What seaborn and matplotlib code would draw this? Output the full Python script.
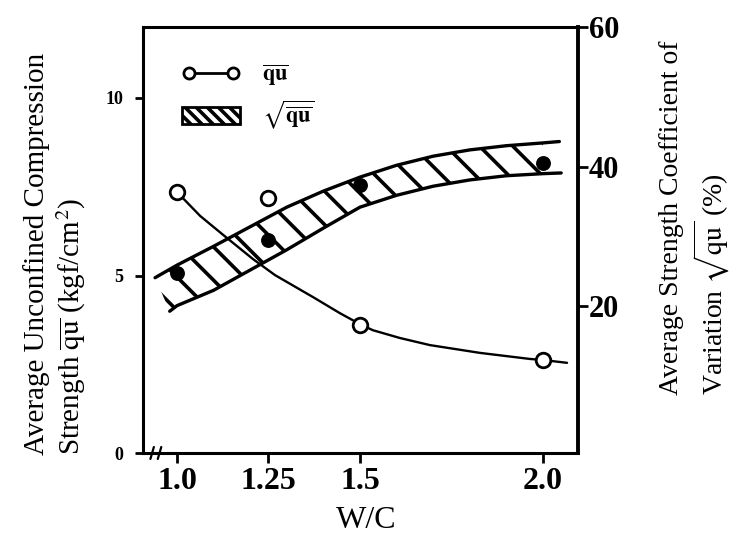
import matplotlib
matplotlib.use("Agg")
import matplotlib.pyplot as plt
import seaborn as sns
import numpy as np
import pandas as pd
from matplotlib.lines import Line2D
from matplotlib.patches import Patch

# ---------------- data ----------------
wc_points = [1.0, 1.25, 1.5, 2.0]
qu_mean = [7.35, 7.18, 3.61, 2.62]          # left axis, open circles
cv_points = [24.8, 29.5, 37.4, 40.5]        # right axis, filled dots

qu_curve_x = [1.0, 1.063, 1.123, 1.208, 1.268, 1.372, 1.445, 1.5, 1.535,
              1.609, 1.691, 1.828, 1.964, 2.0, 2.066]
qu_curve_y = [7.35, 6.68, 6.17, 5.46, 5.01, 4.39, 3.94, 3.63, 3.46,
              3.24, 3.04, 2.82, 2.65, 2.62, 2.54]

band_upper_x = [0.94, 1.0, 1.1, 1.2, 1.3, 1.4, 1.5, 1.6, 1.7, 1.8, 1.9, 2.0, 2.045]
band_upper_y = [24.1, 25.9, 28.6, 31.4, 34.2, 36.5, 38.5, 40.2, 41.5, 42.4, 43.0, 43.4, 43.6]
band_lower_x = [0.98, 1.0, 1.1, 1.2, 1.3, 1.4, 1.5, 1.6, 1.7, 1.8, 1.9, 2.0, 2.05]
band_lower_y = [19.3, 20.1, 22.3, 25.2, 28.1, 31.2, 34.2, 35.9, 37.2, 38.1, 38.7, 39.0, 39.1]

x_ticks = [1.0, 1.25, 1.5, 2.0]
x_tick_labels = ["1.0", "1.25", "1.5", "2.0"]
left_ticks = [0, 5, 10]
left_tick_labels = ["0", "5", "10"]
right_ticks = [20, 40, 60]
right_tick_labels = ["20", "40", "60"]

left_label_1 = "Average Unconfined Compression"
left_label_2 = r"Strength $\overline{\mathrm{qu}}$ (kgf/cm$^2$)"
right_label_1 = "Average Strength Coefficient of"
right_label_2 = r"Variation $\sqrt{\mathrm{qu}}$ (%)"
x_label = "W/C"
legend_labels = [r"$\overline{\mathbf{qu}}$", r"$\sqrt{\overline{\mathbf{qu}}}$"]

# ---------------- style ----------------
sns.set_theme(style="white")
plt.rcParams["font.family"] = ["Liberation Serif", "DejaVu Serif"]
plt.rcParams["mathtext.fontset"] = "stix"
plt.rcParams["hatch.linewidth"] = 2.6
plt.rcParams["text.color"] = "black"
plt.rcParams["axes.labelcolor"] = "black"
plt.rcParams["xtick.color"] = "black"
plt.rcParams["ytick.color"] = "black"
plt.rcParams["axes.edgecolor"] = "black"

fig = plt.figure(figsize=(7.32, 5.49), dpi=100)
W, H = 732, 549
ax = fig.add_axes([143 / W, 1 - 453 / H, (578 - 143) / W, (453 - 27) / H])
ax2 = ax.twinx()

# ---------------- qu (left axis) ----------------
curve_df = pd.DataFrame({"wc": qu_curve_x, "qu": qu_curve_y})
sns.lineplot(data=curve_df, x="wc", y="qu", ax=ax, color="black",
             linewidth=1.7, sort=False, estimator=None)
pts_df = pd.DataFrame({"wc": wc_points, "qu": qu_mean, "cv": cv_points})
sns.scatterplot(data=pts_df, x="wc", y="qu", ax=ax, marker="o", s=110,
                facecolor="white", edgecolor="black", linewidth=2, zorder=5)

# ---------------- CV band (right axis) ----------------
poly_x = np.concatenate([band_upper_x[:-1], band_lower_x[:-1][::-1]])
poly_y = np.concatenate([band_upper_y[:-1], band_lower_y[:-1][::-1]])
ax2.fill(poly_x, poly_y, facecolor="none", edgecolor="black",
         hatch="\\", linewidth=0)
up_df = pd.DataFrame({"wc": band_upper_x, "cv": band_upper_y})
lo_df = pd.DataFrame({"wc": band_lower_x, "cv": band_lower_y})
sns.lineplot(data=up_df, x="wc", y="cv", ax=ax2, color="black", linewidth=2.4,
             sort=False, estimator=None)
sns.lineplot(data=lo_df, x="wc", y="cv", ax=ax2, color="black", linewidth=2.4,
             sort=False, estimator=None)
sns.scatterplot(data=pts_df, x="wc", y="cv", ax=ax2, marker="o", s=115,
                color="black", edgecolor="black", linewidth=0, zorder=5)

# ---------------- axes ----------------
ax.set_xlim(0.907, 2.096)
ax.set_ylim(0, 12)
ax2.set_ylim(-1, 60)
ax.set_xticks(x_ticks, x_tick_labels, fontsize=23, fontweight="bold")
ax.set_yticks(left_ticks, left_tick_labels, fontsize=13, fontweight="bold")
ax2.set_yticks(right_ticks, right_tick_labels, fontsize=22, fontweight="bold")
ax.set_xlabel("")
ax.set_ylabel("")
ax2.set_ylabel("")
ax.tick_params(axis="x", direction="out", length=7, width=2, pad=3,
               colors="black", bottom=True)
ax.tick_params(axis="y", direction="out", length=6, width=2, pad=8,
               colors="black", left=True)
ax2.tick_params(axis="y", direction="out", length=7, width=2, pad=1,
                colors="black", right=True)
for s in ["left", "top", "bottom"]:
    ax.spines[s].set_linewidth(2.2)
    ax.spines[s].set_color("black")
    ax2.spines[s].set_visible(False)
ax.spines["right"].set_visible(False)
ax2.spines["right"].set_linewidth(2.8)
ax2.spines["right"].set_color("black")
ax.grid(False)
ax2.grid(False)

# axis break marks on the x axis
for xf in (0.021, 0.038):
    ax.plot([xf - 0.004, xf + 0.004], [-0.014, 0.014], transform=ax.transAxes,
            color="black", linewidth=1.6, clip_on=False)

# ---------------- legend ----------------
handles = [
    Line2D([], [], color="black", linewidth=2, marker="o", markersize=8,
           markerfacecolor="white", markeredgecolor="black", markeredgewidth=2),
    Patch(facecolor="white", edgecolor="black", hatch="\\\\\\", linewidth=2),
]
leg = ax2.legend(handles, legend_labels, loc="upper left",
                 bbox_to_anchor=(0.09, 0.915), frameon=False, numpoints=2,
                 fontsize=16, handlelength=2.6, handleheight=0.8,
                 labelspacing=0.45, borderaxespad=0, borderpad=0,
                 handletextpad=1.0)

# ---------------- axis titles ----------------
fig.text(37 / W, 1 - 455 / H, left_label_1, rotation=90, rotation_mode="anchor",
         ha="left", va="center", fontsize=21)
fig.text(71 / W, 1 - 455 / H, left_label_2, rotation=90, rotation_mode="anchor",
         ha="left", va="center", fontsize=21)
fig.text(671 / W, 1 - 395 / H, right_label_1, rotation=90, rotation_mode="anchor",
         ha="left", va="center", fontsize=20)
fig.text(712 / W, 1 - 395 / H, right_label_2, rotation=90, rotation_mode="anchor",
         ha="left", va="center", fontsize=20)
fig.text(366 / W, 1 - 521 / H, x_label, ha="center", va="center", fontsize=23)

fig.savefig("out.png", dpi=100, facecolor="white")
